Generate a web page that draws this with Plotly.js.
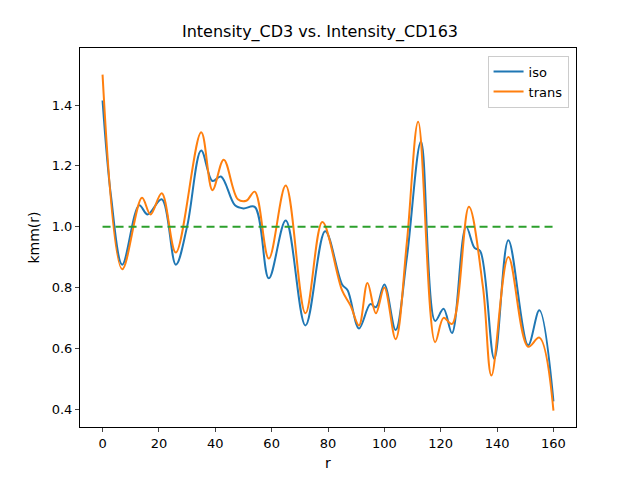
<!DOCTYPE html>
<html>
<head>
<script src="https://cdn.plot.ly/plotly-3.0.1.min.js"></script>
</head>
<body style="margin:0">
<div id="grafico" style="width:640px;height:480px"></div>
<script>
/* Puntos */
var isoR = [0, 3, 7, 13, 16, 21, 26, 30, 35, 39, 42, 47, 50, 54, 59, 65, 72, 79, 85, 87, 91, 95, 97, 100, 104, 108, 113, 118, 121, 124, 129, 132, 134, 139, 144, 151, 155, 160];
var isoK = [1.415, 1.1, 0.875, 1.07, 1.04, 1.09, 0.875, 1.0, 1.25, 1.15, 1.165, 1.07, 1.06, 1.065, 0.83, 1.02, 0.675, 0.985, 0.81, 0.79, 0.665, 0.745, 0.735, 0.81, 0.66, 0.9, 1.28, 0.69, 0.73, 0.65, 1.0, 0.93, 0.92, 0.565, 0.955, 0.61, 0.725, 0.425];
var transR = [0, 7, 14, 17, 21, 26, 35, 39, 43, 48, 51, 54, 59, 65, 72, 78, 85, 88, 91, 94, 97, 100, 104, 108, 112, 118, 121, 124, 130, 135, 138, 144, 151, 155, 160];
var transK = [1.5, 0.86, 1.095, 1.04, 1.11, 0.915, 1.31, 1.12, 1.22, 1.09, 1.085, 1.115, 0.895, 1.135, 0.715, 1.015, 0.79, 0.74, 0.675, 0.815, 0.715, 0.8, 0.63, 0.95, 1.345, 0.62, 0.7, 0.68, 1.065, 0.8, 0.51, 0.9, 0.605, 0.635, 0.395];
var refR = [0, 160];
var refK = [1, 1];

var data = [
  {x: isoR, y: isoK, name: 'iso', type: 'scatter', mode: 'lines',
   line: {color: '#1f77b4', width: 2, shape: 'spline', smoothing: 1}},
  {x: transR, y: transK, name: 'trans', type: 'scatter', mode: 'lines',
   line: {color: '#ff7f0e', width: 2, shape: 'spline', smoothing: 1}},
  {x: refR, y: refK, type: 'scatter', mode: 'lines', showlegend: false,
   line: {color: '#2ca02c', width: 2, dash: '8px,5px'}}
];

var axis = {showgrid: false, zeroline: false, showline: true, mirror: true,
  linecolor: 'black', linewidth: 1, ticks: 'outside', ticklen: 4,
  tickfont: {size: 13}};

var layout = {
  width: 640, height: 480,
  margin: {l: 80, r: 64, t: 48, b: 53},
  font: {family: 'DejaVu Sans', color: 'black'},
  title: {text: 'Intensity_CD3 vs. Intensity_CD163', font: {size: 16}, y: 0.935, yanchor: 'middle'},
  xaxis: Object.assign({}, axis, {range: [-8, 168], tickvals: [0, 20, 40, 60, 80, 100, 120, 140, 160],
    title: {text: 'r', font: {size: 14}, standoff: 8}}),
  yaxis: Object.assign({}, axis, {range: [0.341, 1.5875], tickvals: [0.4, 0.6, 0.8, 1.0, 1.2, 1.4],
    tickformat: '.1f', title: {text: 'kmm(r)', font: {size: 14}, standoff: 8}}),
  legend: {x: 0.985, y: 0.98, xanchor: 'right', yanchor: 'top', bordercolor: '#ccc',
    borderwidth: 1, font: {size: 13}},
  plot_bgcolor: 'white', paper_bgcolor: 'white'
};

Plotly.newPlot('grafico', data, layout, {staticPlot: true});
</script>
</body>
</html>
